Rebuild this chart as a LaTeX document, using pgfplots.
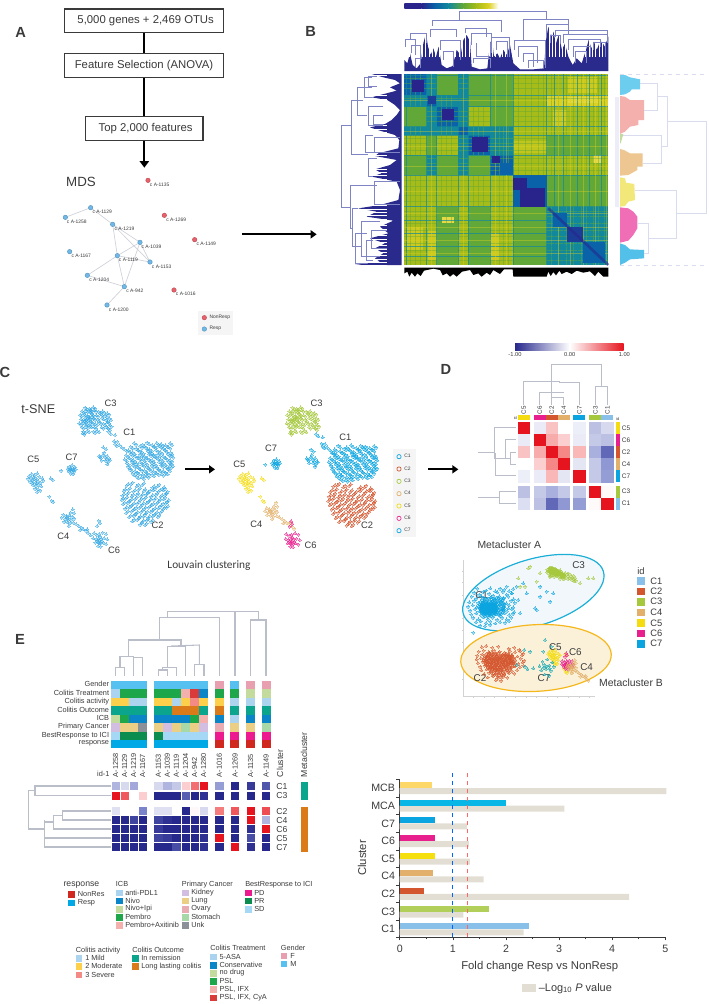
\documentclass[border=0pt]{standalone}
\usepackage{fontspec}
\setmainfont{Liberation Sans}
\newfontfamily\carlito{Carlito}
\usepackage{pgfplots}
\pgfplotsset{compat=1.18}
\usepackage{pgfplotstable}
\usetikzlibrary{arrows.meta}

% cluster colours
\definecolor{cA}{HTML}{88C0EA}\definecolor{cB}{HTML}{D4562F}\definecolor{cC}{HTML}{A5C83C}
\definecolor{cD}{HTML}{E2B06A}\definecolor{cE}{HTML}{F4DC10}\definecolor{cF}{HTML}{E8208E}
\definecolor{cG}{HTML}{0AA5E0}\definecolor{dots}{HTML}{35A8E2}
\definecolor{dg}{HTML}{BABEC9}\definecolor{dv}{HTML}{7F85C4}\definecolor{dl}{HTML}{D9DBEE}\definecolor{navy}{HTML}{2A2A8C}
\definecolor{txt}{HTML}{3A3A3A}\definecolor{mdsR}{HTML}{E8606A}\definecolor{mdsB}{HTML}{6FB8E8}
% heatmap B
\definecolor{hN}{HTML}{28248C}\definecolor{hB}{HTML}{0A62A8}\definecolor{hT}{HTML}{12889C}
\definecolor{hG}{HTML}{62A838}\definecolor{hO}{HTML}{A6BC18}\definecolor{hY}{HTML}{DCD022}\definecolor{hP}{HTML}{F2E87A}
% annotations panel E
\definecolor{gM}{HTML}{56C1F0}\definecolor{gF}{HTML}{E8A0B0}
\definecolor{tA}{HTML}{A9D3EE}\definecolor{tC}{HTML}{0A85C8}\definecolor{tN}{HTML}{C3DC9D}\definecolor{tP}{HTML}{1EA64A}\definecolor{tI}{HTML}{F3B0AD}\definecolor{tY}{HTML}{D93A3A}
\definecolor{aM}{HTML}{ACD4EE}\definecolor{aO}{HTML}{FDD04C}\definecolor{aS}{HTML}{F48A85}
\definecolor{oR}{HTML}{0AA58C}\definecolor{oL}{HTML}{DB7A18}
\definecolor{pK}{HTML}{D2BEE0}\definecolor{pL}{HTML}{EBCF85}\definecolor{pO}{HTML}{E8ACB2}\definecolor{pS}{HTML}{A6D8A8}\definecolor{pU}{HTML}{8C9199}
\definecolor{bD}{HTML}{EC1A8E}\definecolor{bR}{HTML}{0A8D4E}\definecolor{bS}{HTML}{A5D8F5}
\definecolor{rN}{HTML}{D0281E}\definecolor{rR}{HTML}{00A8E6}
\definecolor{pval}{HTML}{E2DED3}

\newcommand\fs[1]{\fontsize{#1}{#1}\selectfont}
\newcommand\den[2][dv]{\addplot[#1,forget plot] coordinates {#2};}
\newcommand\rc[5]{\addplot[draw=none,fill=#5,forget plot] coordinates {(#1,#3)(#2,#3)(#2,#4)(#1,#4)} --cycle;}
\newcommand\poly[2]{\addplot[draw=none,fill=#1,forget plot] coordinates {#2} --cycle;}
\newcommand\tx[4][]{\node[text=txt,inner sep=0pt,#1] at (#2,#3) {#4};}

\pgfplotsset{
  page/.style={at={(0,0)},anchor=north west,scale only axis,width=531.75pt,height=753pt,
    hide axis,clip=false,y dir=reverse,
    colormap={rb}{rgb255(0cm)=(38,40,140);rgb255(1cm)=(122,132,202);rgb255(2cm)=(255,255,255);rgb255(3cm)=(245,135,135);rgb255(4cm)=(230,20,30)}},
  pts/.style={only marks,mark=*,mark size=1.1pt,mark options={draw=#1,fill=#1,opacity=.42,line width=0pt},forget plot},
  hcells/.style={scatter,only marks,mark=square*,mark size=#1,point meta=explicit,point meta min=-1,point meta max=1,
    scatter/use mapped color={draw=mapped color,fill=mapped color},forget plot},
}

% t-SNE points (zoomed pixels)
\pgfplotstableread[row sep=crcr]{x y\\
402 219\\ 428 224\\ 441 218\\ 456 226\\ 470 219\\ 483 222\\ 497 226\\ 510 220\\
392 230\\ 408 236\\ 420 228\\ 437 233\\ 449 238\\ 462 229\\ 478 228\\ 490 235\\ 505 231\\
385 241\\ 398 247\\ 414 240\\ 425 246\\ 443 243\\ 455 249\\ 468 240\\ 481 246\\ 495 241\\ 511 248\\
378 256\\ 392 252\\ 405 258\\ 420 254\\ 433 259\\ 447 252\\ 460 257\\ 474 254\\ 489 259\\ 503 252\\ 514 258\\
374 268\\ 388 264\\ 400 270\\ 415 263\\ 428 268\\ 441 264\\ 456 271\\ 469 263\\ 482 268\\ 497 264\\ 510 270\\
380 279\\ 395 275\\ 408 281\\ 421 276\\ 436 279\\ 450 274\\ 463 282\\ 478 276\\ 491 280\\ 505 275\\ 513 283\\
384 290\\ 399 286\\ 412 291\\ 427 285\\ 440 290\\ 455 287\\ 470 293\\ 484 286\\ 498 291\\ 509 288\\
390 299\\ 405 303\\ 420 297\\ 433 302\\ 448 298\\ 461 304\\ 476 299\\ 490 303\\ 504 298\\
398 311\\ 412 308\\ 428 313\\ 441 309\\ 456 314\\ 470 310\\ 485 312\\ 497 308\\ 410 320\\ 425 322\\ 440 318\\
}\tCa
\pgfplotstableread[row sep=crcr]{x y\\
297 258\\ 303 265\\ 309 255\\ 315 262\\ 322 258\\ 328 266\\ 305 272\\ 316 272\\ 324 277\\ 312 248\\ 318 238\\ 310 232\\ 322 283\\ 330 270\\ 320 268\\ 300 262\\
345 222\\ 352 215\\ 358 225\\ 365 232\\ 372 238\\ 380 243\\ 342 214\\ 350 228\\ 325 185\\ 332 192\\ 345 195\\
}\tCb
\pgfplotstableread[row sep=crcr]{x y\\
385 342\\ 398 338\\ 415 344\\ 432 340\\ 462 348\\ 478 344\\ 492 352\\
376 358\\ 390 354\\ 405 360\\ 420 355\\ 436 358\\ 450 362\\ 465 356\\ 480 360\\ 495 356\\ 503 365\\
372 372\\ 386 368\\ 400 374\\ 415 370\\ 428 373\\ 443 369\\ 458 375\\ 472 370\\ 487 375\\ 500 371\\
370 385\\ 382 381\\ 396 387\\ 410 383\\ 425 386\\ 438 382\\ 452 388\\ 467 384\\ 481 388\\ 496 383\\ 506 390\\
374 398\\ 388 394\\ 402 400\\ 416 396\\ 431 399\\ 445 395\\ 460 401\\ 474 397\\ 489 401\\ 502 396\\
380 411\\ 394 407\\ 408 413\\ 423 409\\ 437 412\\ 451 408\\ 466 414\\ 480 410\\ 494 413\\ 504 408\\
384 424\\ 399 420\\ 413 426\\ 428 421\\ 442 425\\ 457 421\\ 471 427\\ 486 423\\
392 437\\ 406 433\\ 421 439\\ 435 434\\ 449 438\\ 463 434\\ 478 436\\
402 449\\ 417 445\\ 431 451\\ 445 447\\ 458 450\\ 425 459\\ 440 461\\
}\tCc
\pgfplotstableread[row sep=crcr]{x y\\
255 113\\ 268 116\\ 280 112\\ 246 124\\ 258 122\\ 270 127\\ 283 121\\ 296 125\\ 308 124\\ 240 135\\ 252 132\\ 263 138\\ 276 133\\ 289 136\\ 302 132\\ 315 137\\ 322 130\\
243 148\\ 255 145\\ 268 150\\ 280 146\\ 293 149\\ 306 144\\ 318 150\\ 328 146\\ 238 160\\ 250 158\\ 262 162\\ 274 157\\ 286 162\\ 298 158\\ 311 161\\ 323 157\\ 330 166\\
246 172\\ 258 170\\ 270 168\\ 283 172\\ 305 172\\ 318 170\\ 325 176\\ 250 185\\ 262 183\\ 248 190\\ 280 185\\ 292 183\\ 258 150\\ 264 142\\ 252 152\\ 276 140\\ 270 120\\
}\tCd
\pgfplotstableread[row sep=crcr]{x y\\
88 318\\ 95 312\\ 104 316\\ 112 310\\ 84 326\\ 93 325\\ 101 322\\ 110 327\\ 118 320\\ 127 325\\ 90 335\\ 98 332\\ 106 338\\ 114 333\\ 122 338\\ 130 332\\
100 345\\ 108 348\\ 116 344\\ 124 349\\ 105 356\\ 114 358\\ 121 362\\ 112 366\\ 104 328\\ 110 340\\ 97 340\\ 152 325\\ 158 330\\ 148 380\\ 155 392\\ 160 396\\
}\tCe
\pgfplotstableread[row sep=crcr]{x y\\
208 290\\ 216 286\\ 224 291\\ 203 297\\ 211 295\\ 219 296\\ 227 298\\ 206 304\\ 214 302\\ 222 305\\ 212 311\\ 219 313\\ 215 298\\ 210 300\\ 220 301\\ 183 302\\
}\tCf
\pgfplotstableread[row sep=crcr]{x y\\
218 418\\ 212 428\\ 222 430\\ 190 434\\ 198 438\\ 208 436\\ 216 440\\ 185 443\\ 195 447\\ 204 445\\ 212 450\\ 222 446\\ 192 455\\ 202 457\\ 210 460\\ 220 458\\ 206 468\\ 228 462\\
236 468\\ 244 473\\ 250 478\\ 258 482\\ 265 489\\ 272 496\\ 240 480\\ 262 478\\ 205 450\\ 200 442\\
}\tCg
\pgfplotstableread[row sep=crcr]{x y\\
296 452\\ 300 460\\ 292 468\\ 282 490\\ 290 495\\ 298 492\\ 308 488\\ 318 492\\ 280 505\\ 288 508\\ 296 505\\ 304 507\\ 312 504\\ 322 508\\ 286 518\\ 294 517\\ 302 520\\ 310 518\\ 318 522\\ 294 528\\ 302 530\\ 298 512\\ 300 500\\ 292 512\\ 306 514\\ 297 520\\
}\tCh

\pgfplotstableread[row sep=crcr]{x y v\\
251 295 1\\ 299 295 -.08\\ 335 295 .25\\ 371 295 0\\ 418 295 -.07\\ 466 295 -.25\\ 502 295 -.15\\
251 331 -.08\\ 299 331 1\\ 335 331 .35\\ 371 331 .2\\ 418 331 -.08\\ 466 331 -.22\\ 502 331 -.25\\
251 367 .25\\ 299 367 .35\\ 335 367 1\\ 371 367 .5\\ 418 367 .3\\ 466 367 -.32\\ 502 367 -.65\\
251 403 0\\ 299 403 .2\\ 335 403 .5\\ 371 403 1\\ 418 403 -.1\\ 466 403 -.22\\ 502 403 -.42\\
251 439 -.07\\ 299 439 -.08\\ 335 439 .3\\ 371 439 -.1\\ 418 439 1\\ 466 439 -.22\\ 502 439 -.4\\
251 486 -.25\\ 299 486 -.22\\ 335 486 -.32\\ 371 486 -.22\\ 418 486 -.22\\ 466 486 1\\ 502 486 .02\\
251 522 -.13\\ 299 522 -.25\\ 335 522 -.65\\ 371 522 -.42\\ 418 522 -.4\\ 466 522 .02\\ 502 522 1\\
}\tCorr

\pgfplotstableread[row sep=crcr]{x y v\\
347 648 -.3\\ 374 648 -.15\\ 401 648 -.35\\ 428 648 0\\ 475 648 -.15\\ 502 648 -.3\\ 529 648 -.22\\ 557 648 .2\\ 584 648 .6\\ 611 648 1\\ 658 648 -.4\\ 705 648 -1\\ 752 648 -.9\\ 798 648 -.75\\
347 677 1\\ 374 677 .7\\ 401 677 0\\ 428 677 .2\\ 475 677 -1\\ 502 677 -1\\ 529 677 -1\\ 557 677 -.7\\ 584 677 -1\\ 611 677 -.95\\ 658 677 -1\\ 705 677 -1\\ 752 677 -1\\ 798 677 -1\\
347 723 -.12\\ 374 723 0\\ 401 723 0\\ 428 723 -.5\\ 475 723 -.12\\ 502 723 -.12\\ 529 723 0\\ 557 723 -1\\ 584 723 .03\\ 611 723 -.15\\ 658 723 .55\\ 705 723 .7\\ 752 723 1\\ 798 723 .75\\
347 750 -1\\ 374 750 -1\\ 401 750 -.85\\ 428 750 -1\\ 475 750 -.85\\ 502 750 -.95\\ 529 750 -1\\ 557 750 -1\\ 584 750 -1\\ 611 750 -1\\ 658 750 -1\\ 705 750 -1\\ 752 750 1\\ 798 750 -.3\\
347 777 -1\\ 374 777 -1\\ 401 777 -1\\ 428 777 -1\\ 475 777 -.9\\ 502 777 -1\\ 529 777 -1\\ 557 777 -1\\ 584 777 -1\\ 611 777 -1\\ 658 777 -1\\ 705 777 -1\\ 752 777 -.95\\ 798 777 1\\
347 804 -1\\ 374 804 -1\\ 401 804 -1\\ 428 804 -1\\ 475 804 -.85\\ 502 804 -.9\\ 529 804 -1\\ 557 804 -1\\ 584 804 -1\\ 611 804 -.95\\ 658 804 1\\ 705 804 -1\\ 752 804 -.8\\ 798 804 -1\\
347 831 -1\\ 374 831 -1\\ 401 831 -1\\ 428 831 -1\\ 475 831 -1\\ 502 831 -1\\ 529 831 -.8\\ 557 831 -1\\ 584 831 -1\\ 611 831 -.95\\ 658 831 -1\\ 705 831 1\\ 752 831 -.95\\ 798 831 -1\\
}\tPat

\begin{document}
\begin{tikzpicture}

%% ---- panel A
\begin{axis}[page,xmin=0,xmax=2127,ymin=0,ymax=3012]
\tx{62}{97}{\fs{11}\bfseries A}
\draw[line width=1.4pt,black] (433,97)--(433,160) (433,232)--(433,350);
\draw[line width=1.4pt,black,-{Triangle[length=5pt,width=7pt]}] (433,420)--(433,503);
\draw[line width=.9pt,draw=txt,fill=white] (194,27) rectangle (671,97);
\draw[line width=.9pt,draw=txt,fill=white] (194,160) rectangle (671,232);
\draw[line width=.9pt,draw=txt,fill=white] (256,350) rectangle (609,421);
\tx{437}{62}{\fs{8.5}5,000 genes + 2,469 OTUs}
\tx{432}{196}{\fs{8.5}Feature Selection (ANOVA)}
\tx{437}{386}{\fs{8.5}Top 2,000 features}
\tx{243}{547}{\fs{10}MDS}
\den[draw=dg!70,line width=.5pt]{(196,652)(272,623)(338,673)(420,727)}
\den[draw=dg!70,line width=.5pt]{(338,673)(352,767)(373,860)(321,915)}
\den[draw=dg!70,line width=.5pt]{(338,673)(450,786)(420,727)(373,860)(262,826)(352,767)(420,727)}
\den[draw=dg!70,line width=.5pt]{(352,767)(450,786)}
\addplot[only marks,mark=*,mark size=1.7pt,mark options={fill=mdsR,draw=mdsR!80!black,line width=.3pt},forget plot] coordinates {(444,541)(493,646)(584,719)(522,870)};
\addplot[only marks,mark=*,mark size=1.7pt,mark options={fill=mdsB,draw=mdsB!80!black,line width=.3pt},forget plot] coordinates {(272,623)(196,652)(338,673)(420,727)(209,755)(352,767)(450,786)(262,826)(373,860)(321,915)};
\tx[anchor=west]{449}{555}{\fs{3.7}c A-1135}
\tx[anchor=west]{277}{636}{\fs{3.7}c A-1129}
\tx[anchor=west]{200}{664}{\fs{3.7}c A-1258}
\tx[anchor=west]{498}{658}{\fs{3.7}c A-1269}
\tx[anchor=west]{343}{686}{\fs{3.7}c A-1219}
\tx[anchor=west]{589}{732}{\fs{3.7}c A-1149}
\tx[anchor=west]{424}{741}{\fs{3.7}c A-1039}
\tx[anchor=west]{214}{767}{\fs{3.7}c A-1167}
\tx[anchor=west]{356}{780}{\fs{3.7}c A-1119}
\tx[anchor=west]{455}{800}{\fs{3.7}c A-1153}
\tx[anchor=west]{267}{839}{\fs{3.7}c A-1204}
\tx[anchor=west]{378}{873}{\fs{3.7}c A-942}
\tx[anchor=west]{527}{882}{\fs{3.7}c A-1016}
\tx[anchor=west]{326}{928}{\fs{3.7}c A-1200}
\rc{595}{698}{932}{1004}{gray!8}
\addplot[only marks,mark=*,mark size=1.7pt,mark options={fill=mdsR,draw=mdsR!80!black,line width=.3pt},forget plot] coordinates {(613,953)};
\addplot[only marks,mark=*,mark size=1.7pt,mark options={fill=mdsB,draw=mdsB!80!black,line width=.3pt},forget plot] coordinates {(613,987)};
\tx[anchor=west]{628}{951}{\fs{3.7}NonResp}
\tx[anchor=west]{628}{985}{\fs{3.7}Resp}
\draw[line width=1.6pt,black,-{Triangle[length=4.5pt,width=6pt]}] (726,703)--(950,703);
\end{axis}

%% ---- panel B
\begin{axis}[page,xmin=-900,xmax=1227,ymin=0,ymax=3012]
\tx{32}{95}{\fs{11}\bfseries B}
\shade[left color=hN,right color=hN] (313,10) rectangle (365,25);
\shade[left color=hN,right color=hB] (365,10) rectangle (405,25);
\shade[left color=hB,right color=hT] (405,10) rectangle (445,25);
\shade[left color=hT,right color=hG] (445,10) rectangle (490,25);
\shade[left color=hG,right color=hO] (490,10) rectangle (530,25);
\shade[left color=hO,right color=hY] (530,10) rectangle (565,25);
\shade[left color=hY,right color=white] (565,10) rectangle (595,25);
% top dendrogram
\poly{navy}{(313,213)(313,180)(322,190)(330,160)(338,195)(350,205)(362,190)(370,130)(378,100)(384,140)(392,165)(400,145)(408,170)(416,140)(425,195)(440,205)(458,198)(470,150)(482,165)(490,120)(500,105)(510,125)(515,200)(540,208)(562,205)(570,130)(576,118)(582,170)(592,160)(600,175)(610,150)(620,165)(630,135)(640,190)(660,208)(700,208)(732,205)(738,120)(745,80)(752,110)(760,95)(768,130)(776,105)(786,150)(795,130)(805,170)(818,195)(830,175)(845,190)(858,150)(866,120)(874,145)(882,125)(890,150)(898,130)(906,125)(914,140)(925,110)(925,213)}
\pgfplotsinvokeforeach{316,326,...,925}{\den[draw=white,line width=.13pt]{(#1,80)(#1,170)}}
\den{(478,60)(478,33)(739,33)(739,60)}
\den{(398,78)(398,62)(605,62)(605,95)}
\den{(670,120)(670,58)(805,58)(805,72)}
\den{(390,112)(390,88)(470,88)(470,112)}
\den{(330,120)(330,100)(378,100)(378,130)}
\den{(315,140)(315,118)(345,118)(345,165)}
\den{(335,160)(335,135)(362,135)(362,190)}
\den{(420,150)(420,122)(482,122)(482,180)}
\den{(430,180)(430,155)(460,155)(460,200)}
\den{(497,100)(497,85)(560,85)(560,110)}
\den{(515,135)(515,100)(575,100)(575,160)}
\den{(528,130)(528,170)(570,170)(570,130)}
\den{(520,190)(520,175)(570,175)(570,205)}
\den{(575,150)(575,113)(628,113)(628,170)}
\den{(590,150)(590,125)(622,125)(622,170)}
\den{(642,150)(642,120)(735,120)(735,205)}
\den{(655,170)(655,140)(712,140)(712,190)}
\den{(670,185)(670,160)(700,160)(700,200)}
\den{(685,205)(685,180)(730,180)(730,205)}
\den{(740,110)(740,72)(805,72)(805,105)}
\den{(765,110)(765,90)(922,90)(922,130)}
\den{(790,130)(790,102)(922,102)(922,130)}
\den{(805,150)(805,118)(900,118)(900,140)}
\den{(820,170)(820,138)(870,138)(870,170)}
\den{(880,150)(880,128)(915,128)(915,170)}
\den{(752,130)(752,105)(780,105)(780,130)}
\den{(825,190)(825,155)(860,155)(860,190)}
\den{(345,200)(345,175)(360,175)(360,205)}
% left dendrogram
\poly{navy}{(305,222)(215,222)(250,232)(285,240)(300,250)(270,262)(290,272)(240,285)(215,292)(262,300)(285,315)(300,330)(290,345)(275,360)(255,372)(210,382)(240,392)(285,405)(298,420)(295,445)(235,460)(225,468)(290,480)(270,495)(225,508)(245,520)(215,530)(290,545)(300,570)(295,600)(240,615)(175,625)(230,635)(200,650)(280,662)(240,680)(265,700)(210,715)(255,730)(225,745)(250,760)(225,775)(240,785)(165,795)(305,795)}
\pgfplotsinvokeforeach{226,236,...,792}{\den[draw=white,line width=.13pt]{(160,#1)(262,#1)}}
\den{(155,375)(125,375)(125,622)(150,622)}
\den{(190,300)(155,300)(155,462)(205,462)}
\den{(215,262)(172,262)(172,345)(200,345)}
\den{(215,232)(192,232)(192,292)(215,292)}
\den{(230,228)(205,228)(205,258)(230,258)}
\den{(250,318)(205,318)(205,375)(250,375)}
\den{(250,345)(220,345)(220,372)(250,372)}
\den{(220,405)(195,405)(195,458)(225,458)}
\den{(300,412)(222,412)(222,458)(300,458)}
\den{(230,475)(205,475)(205,530)(220,530)}
\den{(300,545)(222,545)(222,612)(300,612)}
\den{(230,555)(150,555)(150,685)(158,685)}
\den{(175,625)(158,625)(158,738)(185,738)}
\den{(200,700)(165,700)(165,790)(200,790)}
\den{(240,665)(185,665)(185,770)(240,770)}
\den{(220,720)(200,720)(200,780)(220,780)}
\den{(260,690)(215,690)(215,745)(260,745)}
% similarity matrix, block by block
\rc{313}{380}{222}{285}{hB}\rc{380}{410}{222}{285}{hT}\rc{410}{475}{222}{285}{hG}\rc{475}{505}{222}{285}{hT}\rc{505}{570}{222}{285}{hG}\rc{570}{640}{222}{285}{hG}\rc{640}{740}{222}{285}{hO}\rc{740}{925}{222}{285}{hO}
\rc{313}{380}{285}{320}{hT}\rc{380}{410}{285}{320}{hB}\rc{410}{475}{285}{320}{hT}\rc{475}{505}{285}{320}{hT}\rc{505}{570}{285}{320}{hG}\rc{570}{640}{285}{320}{hG}\rc{640}{740}{285}{320}{hO}\rc{740}{925}{285}{320}{hY}
\rc{313}{380}{320}{380}{hG}\rc{380}{410}{320}{380}{hT}\rc{410}{475}{320}{380}{hB}\rc{475}{505}{320}{380}{hT}\rc{505}{570}{320}{380}{hO}\rc{570}{640}{320}{380}{hG}\rc{640}{740}{320}{380}{hO}\rc{740}{925}{320}{380}{hO}
\rc{313}{380}{380}{405}{hT}\rc{380}{410}{380}{405}{hT}\rc{410}{475}{380}{405}{hT}\rc{475}{505}{380}{405}{hB}\rc{505}{570}{380}{405}{hT}\rc{570}{640}{380}{405}{hT}\rc{640}{740}{380}{405}{hO}\rc{740}{925}{380}{405}{hO}
\rc{313}{380}{405}{465}{hO}\rc{380}{410}{405}{465}{hG}\rc{410}{475}{405}{465}{hO}\rc{475}{505}{405}{465}{hT}\rc{505}{570}{405}{465}{hB}\rc{570}{640}{405}{465}{hT}\rc{640}{740}{405}{465}{hO}\rc{740}{925}{405}{465}{hG}
\rc{313}{380}{465}{525}{hG}\rc{380}{410}{465}{525}{hT}\rc{410}{475}{465}{525}{hG}\rc{475}{505}{465}{525}{hT}\rc{505}{570}{465}{525}{hG}\rc{570}{640}{465}{525}{hB}\rc{640}{740}{465}{525}{hO}\rc{740}{925}{465}{525}{hO}
\rc{313}{380}{525}{620}{hO}\rc{380}{410}{525}{620}{hO}\rc{410}{475}{525}{620}{hO}\rc{475}{505}{525}{620}{hO}\rc{505}{570}{525}{620}{hO}\rc{570}{640}{525}{620}{hO}\rc{640}{740}{525}{620}{hB}\rc{740}{925}{525}{620}{hG}
\rc{313}{380}{620}{795}{hO}\rc{380}{410}{620}{795}{hO}\rc{410}{475}{620}{795}{hG}\rc{475}{505}{620}{795}{hO}\rc{505}{570}{620}{795}{hG}\rc{570}{640}{620}{795}{hO}\rc{640}{740}{620}{795}{hG}\rc{740}{925}{620}{795}{hT}
% pale patches
\rc{805}{890}{232}{280}{hY!70!hO}\rc{805}{895}{292}{310}{hY!70!hP}\rc{760}{800}{330}{380}{hY!70!hO}\rc{880}{905}{465}{490}{hY!60!hP}\rc{320}{370}{680}{750}{hY!70!hO}\rc{385}{410}{690}{780}{hY!70!hO}\rc{570}{600}{700}{780}{hY!70!hO}\rc{425}{462}{650}{668}{hY!60!hP}\rc{640}{740}{422}{460}{hY!50!hO}
% stripes between the blocks
\pgfplotsinvokeforeach{330,345,360,425,440,455,520,535,550,598,610,625,655,675,695,715,730,755,775,800,820,845,860,880,895,912}{
  \den[draw=hG,line width=.3pt,opacity=.45]{(#1,222)(#1,795)}}
\pgfplotsinvokeforeach{235,250,265,295,335,350,365,415,430,450,475,490,510,540,560,585,605,635,650,670,690,710,730,750,780}{
  \den[draw=hG,line width=.3pt,opacity=.45]{(313,#1)(925,#1)}}
\pgfplotsinvokeforeach{318,380,410,475,505,570,640,740,762,790,832,868,905}{
  \den[draw=hT,line width=.7pt,opacity=.7]{(#1,222)(#1,795)}}
\pgfplotsinvokeforeach{225,285,320,380,405,465,525,620,660,700,740,770}{
  \den[draw=hT,line width=.7pt,opacity=.7]{(313,#1)(925,#1)}}
\pgfplotsinvokeforeach{395,490,585,620,775,810,850,885,918}{
  \den[draw=hY,line width=.4pt,opacity=.4]{(#1,222)(#1,795)}}
\pgfplotsinvokeforeach{300,395,440,500,575,640,682,720,760}{
  \den[draw=hY,line width=.4pt,opacity=.4]{(313,#1)(925,#1)}}
% dark squares on the diagonal
\rc{335}{372}{240}{275}{hN}\rc{425}{462}{328}{360}{hN}\rc{515}{565}{412}{456}{hN}\rc{575}{600}{468}{490}{hN}\rc{600}{638}{490}{525}{hB}\rc{385}{408}{288}{312}{hN!60!hB}
\rc{640}{740}{525}{620}{hB}\rc{660}{735}{565}{620}{hN}\rc{640}{680}{535}{570}{hN}
\rc{760}{800}{640}{680}{hB}\rc{800}{850}{680}{725}{hN!60!hB}\rc{850}{915}{725}{790}{hB}
\den[draw=hN,line width=2pt,opacity=.55]{(745,625)(925,795)}
% bar below
\poly{black}{(313,803)(313,820)(322,815)(328,830)(335,818)(345,830)(352,820)(362,828)(372,812)(400,806)(420,810)(428,826)(440,820)(450,830)(460,822)(470,830)(486,815)(510,810)(520,825)(535,820)(545,830)(560,818)(570,825)(580,810)(600,822)(612,808)(638,808)(640,830)(740,830)(745,815)(752,828)(760,816)(768,826)(778,812)(785,822)(800,815)(815,822)(830,812)(850,818)(870,814)(885,828)(895,815)(910,830)(925,830)(925,803)}
% metadata histograms on the right
\rc{945}{958}{290}{620}{dl!50}
\poly{cA!80!cyan}{(960,225)(975,225)(990,232)(1020,238)(1020,268)(995,268)(990,275)(975,283)(960,285)}
\poly{tI}{(960,288)(975,290)(990,300)(1032,300)(1032,360)(1015,360)(1015,375)(990,380)(975,395)(960,402)}
\poly{tN}{(960,402)(970,402)(962,430)(960,430)}
\poly{pL!70!tI}{(960,447)(972,450)(990,460)(1028,460)(1028,500)(1012,500)(1012,510)(985,525)(960,527)}
\poly{hP}{(960,532)(975,535)(978,548)(1003,552)(1005,600)(985,605)(975,618)(960,620)}
\poly{cF!65!white}{(960,622)(985,625)(1000,635)(1012,650)(1012,685)(1000,705)(985,722)(960,728)}
\poly{cG!70!white}{(960,730)(975,735)(990,748)(1032,750)(1032,775)(990,778)(975,788)(960,795)}
\den[dl,dashed]{(960,222)(1220,222)}
\den[dl,dashed]{(960,795)(1220,795)}
\den[dl]{(1020,250)(1073,250)(1073,330)(1032,330)}
\den[dl]{(970,405)(1085,405)(1085,490)(1028,490)}
\den[dl]{(1073,290)(1103,290)(1103,440)(1085,440)}
\den[dl]{(1103,365)(1220,365)(1220,640)(1130,640)}
\den[dl]{(1005,570)(1130,570)(1130,715)(1045,715)}
\den[dl]{(1012,670)(1045,670)(1045,760)(1032,760)}
\end{axis}

%% ---- panel C
\begin{axis}[page,xmin=0,xmax=2127,ymin=-1110,ymax=1902]
\tx{15}{6}{\fs{11}\bfseries C}
\tx{115}{118}{\fs{9.5}t-SNE}
\addplot[pts=dots] table {\tCa};
\addplot[pts=dots] table[x expr=\thisrow{x}+6,y expr=\thisrow{y}+5] {\tCa};
\addplot[pts=dots] table {\tCb};
\addplot[pts=dots] table {\tCc};
\addplot[pts=dots] table[x expr=\thisrow{x}-5,y expr=\thisrow{y}+5] {\tCc};
\addplot[pts=dots] table {\tCd};
\addplot[pts=dots] table[x expr=\thisrow{x}+5,y expr=\thisrow{y}+4] {\tCd};
\addplot[pts=dots] table {\tCe};
\addplot[pts=dots] table {\tCf};
\addplot[pts=dots] table {\tCg};
\addplot[pts=dots] table {\tCh};
\tx{332}{100}{\fs{7}C3}\tx{388}{188}{\fs{7}C1}\tx{100}{268}{\fs{7}C5}\tx{215}{262}{\fs{7}C7}\tx{473}{465}{\fs{7}C2}\tx{190}{500}{\fs{7}C4}\tx{342}{540}{\fs{7}C6}
\draw[line width=1.6pt,black,-{Triangle[length=4.5pt,width=6pt]}] (555,298)--(645,298);
\tx{627}{588}{\fs{8.5}\carlito Louvain clustering}
\addplot[pts=cG] table[x expr=\thisrow{x}+612,y expr=\thisrow{y}+8] {\tCa};
\addplot[pts=cG] table[x expr=\thisrow{x}+618,y expr=\thisrow{y}+13] {\tCa};
\addplot[pts=cG] table[x expr=\thisrow{x}+623,y expr=\thisrow{y}+7] {\tCb};
\addplot[pts=cB] table[x expr=\thisrow{x}+620,y expr=\thisrow{y}+3] {\tCc};
\addplot[pts=cB] table[x expr=\thisrow{x}+615,y expr=\thisrow{y}+8] {\tCc};
\addplot[pts=cC] table[x expr=\thisrow{x}+622,y expr=\thisrow{y}] {\tCd};
\addplot[pts=cC] table[x expr=\thisrow{x}+627,y expr=\thisrow{y}+4] {\tCd};
\addplot[pts=cE] table[x expr=\thisrow{x}+633,y expr=\thisrow{y}] {\tCe};
\addplot[pts=cG] table[x expr=\thisrow{x}+613,y expr=\thisrow{y}-18] {\tCf};
\addplot[pts=cD] table[x expr=\thisrow{x}+610,y expr=\thisrow{y}-20] {\tCg};
\addplot[pts=cF] table[x expr=\thisrow{x}+577,y expr=\thisrow{y}+2] {\tCh};
\tx{950}{100}{\fs{7}C3}\tx{1036}{203}{\fs{7}C1}\tx{813}{236}{\fs{7}C7}\tx{718}{282}{\fs{7}C5}\tx{769}{464}{\fs{7}C4}\tx{1101}{465}{\fs{7}C2}\tx{932}{527}{\fs{7}C6}
\rc{1180}{1247}{237}{500}{gray!8}
\addplot[only marks,mark=o,mark size=1.6pt,mark options={draw=cG,line width=.5pt},forget plot] coordinates {(1197,260)};
\addplot[only marks,mark=o,mark size=1.6pt,mark options={draw=cB,line width=.5pt},forget plot] coordinates {(1197,297)};
\addplot[only marks,mark=o,mark size=1.6pt,mark options={draw=cC,line width=.5pt},forget plot] coordinates {(1197,334)};
\addplot[only marks,mark=o,mark size=1.6pt,mark options={draw=cD,line width=.5pt},forget plot] coordinates {(1197,371)};
\addplot[only marks,mark=o,mark size=1.6pt,mark options={draw=cE,line width=.5pt},forget plot] coordinates {(1197,408)};
\addplot[only marks,mark=o,mark size=1.6pt,mark options={draw=cF,line width=.5pt},forget plot] coordinates {(1197,445)};
\addplot[only marks,mark=o,mark size=1.6pt,mark options={draw=cG,line width=.5pt},forget plot] coordinates {(1197,482)};
\tx[anchor=west]{1212}{258}{\fs{3.7}C1}\tx[anchor=west]{1212}{295}{\fs{3.7}C2}\tx[anchor=west]{1212}{332}{\fs{3.7}C3}\tx[anchor=west]{1212}{369}{\fs{3.7}C4}\tx[anchor=west]{1212}{406}{\fs{3.7}C5}\tx[anchor=west]{1212}{443}{\fs{3.7}C6}\tx[anchor=west]{1212}{480}{\fs{3.7}C7}
\end{axis}

%% ---- panel D
\begin{axis}[page,xmin=-1320,xmax=807,ymin=-990,ymax=2022]
\tx{18}{117}{\fs{11}\bfseries D}
\draw[line width=1.6pt,black,-{Triangle[length=4.5pt,width=6pt]}] (-36,418)--(55,418);
\shade[left color={rgb,255:red,38;green,40;blue,140},right color=white] (225,41) rectangle (389,60);
\shade[left color=white,right color={rgb,255:red,230;green,20;blue,30}] (389,41) rectangle (551,60);
\tx{225}{74}{\fs{4.3}-1.00}\tx{389}{74}{\fs{4.3}0.00}\tx{553}{74}{\fs{4.3}1.00}
\den[dg,line width=.6pt]{(334,155)(334,103)(484,103)(484,170)}
\den[dg,line width=.6pt]{(250,225)(250,153)(358,153)(358,157)(418,157)(418,225)}
\den[dg,line width=.6pt]{(298,225)(298,187)(372,187)}
\den[dg,line width=.6pt]{(335,155)(335,203)}
\den[dg,line width=.6pt]{(335,225)(335,203)(371,203)(371,225)}
\den[dg,line width=.6pt]{(466,225)(466,170)(502,170)(502,225)}
\rc{233}{269}{256}{270}{cE}\rc{281}{317}{256}{270}{cF}\rc{317}{353}{256}{270}{cB}\rc{353}{389}{256}{270}{cD}\rc{400}{436}{256}{270}{cG}\rc{448}{484}{256}{270}{cC}\rc{484}{520}{256}{270}{cA}
\rc{527}{540}{277}{313}{cE}\rc{527}{540}{313}{349}{cF}\rc{527}{540}{349}{385}{cB}\rc{527}{540}{385}{421}{cD}\rc{527}{540}{421}{457}{cG}\rc{527}{540}{468}{504}{cC}\rc{527}{540}{504}{540}{cA}
\node[rotate=90,text=txt,inner sep=0pt] at (251,240) {\fs{4.7}C5};
\node[rotate=90,text=txt,inner sep=0pt] at (299,240) {\fs{4.7}C6};
\node[rotate=90,text=txt,inner sep=0pt] at (335,240) {\fs{4.7}C2};
\node[rotate=90,text=txt,inner sep=0pt] at (371,240) {\fs{4.7}C4};
\node[rotate=90,text=txt,inner sep=0pt] at (418,240) {\fs{4.7}C7};
\node[rotate=90,text=txt,inner sep=0pt] at (466,240) {\fs{4.7}C3};
\node[rotate=90,text=txt,inner sep=0pt] at (502,240) {\fs{4.7}C1};
\tx{226}{263}{\fs{3}id}\tx{533}{266}{\fs{3}id}
\tx[anchor=west]{545}{294}{\fs{4.9}C5}\tx[anchor=west]{545}{330}{\fs{4.9}C6}\tx[anchor=west]{545}{366}{\fs{4.9}C2}\tx[anchor=west]{545}{402}{\fs{4.9}C4}\tx[anchor=west]{545}{438}{\fs{4.9}C7}\tx[anchor=west]{545}{485}{\fs{4.9}C3}\tx[anchor=west]{545}{521}{\fs{4.9}C1}
\den[dg,line width=.6pt]{(113,366)(165,366)}
\den[dg,line width=.6pt]{(228,293)(162,293)(162,385)(197,385)}
\den[dg,line width=.6pt]{(228,437)(167,437)(167,370)}
\den[dg,line width=.6pt]{(228,329)(197,329)(197,385)(210,385)}
\den[dg,line width=.6pt]{(228,366)(210,366)(210,402)(228,402)}
\den[dg,line width=.6pt]{(113,503)(178,503)}
\den[dg,line width=.6pt]{(228,485)(178,485)(178,521)(228,521)}
\addplot[hcells=4.25pt] table[meta=v] {\tCorr};
% scatter with the two metaclusters
\den[draw=gray!35,line width=.4pt]{(70,690)(70,1098)(465,1098)}
\pgfplotsinvokeforeach{723,758,795,830,865,900,937,975,1012,1048}{\den[draw=gray!35,line width=.4pt]{(65,#1)(70,#1)}}
\pgfplotsinvokeforeach{100,132,163,195,227,258,290,322,353,385,417,448}{\den[draw=gray!35,line width=.4pt]{(#1,1098)(#1,1103)}}
\draw[draw={rgb,255:red,27;green,175;blue,216},line width=.9pt,fill={rgb,255:red,241;green,247;blue,251}] (280,788) ellipse [x radius=54.9pt,y radius=24.9pt,rotate=17];
\draw[draw={rgb,255:red,245;green,184;blue,28},line width=.9pt,fill={rgb,255:red,251;green,241;blue,216}] (288,984) ellipse [x radius=56.5pt,y radius=25pt,rotate=3];
\addplot[pts=cG] table[x expr=\thisrow{x}-290,y expr=\thisrow{y}*1.1+535] {\tCa};
\addplot[pts=cG] table[x expr=(\thisrow{x}-445)*.55+155,y expr=(\thisrow{y}-268)*.55+830] {\tCa};
\addplot[pts=cG] table[x expr=(\thisrow{x}-445)*.35+145,y expr=(\thisrow{y}-268)*.3+835] {\tCa};
\addplot[pts=cG] coordinates {(230,770)(260,790)(300,800)(285,835)(340,790)(330,815)(250,760)(215,790)(240,850)(290,840)(205,835)(100,908)(200,770)(235,810)(300,770)(320,785)};
\addplot[pts=cC] table[x expr=(\thisrow{x}-285)*.95+365,y expr=(\thisrow{y}-150)*.35+(\thisrow{x}-285)*.25+735] {\tCd};
\addplot[pts=cC] table[x expr=(\thisrow{x}-285)*.5+350,y expr=(\thisrow{y}-150)*.25+(\thisrow{x}-285)*.2+728] {\tCd};
\addplot[pts=cC] coordinates {(240,770)(270,710)(265,715)(300,730)(445,745)(460,745)(420,760)(255,770)(290,755)(235,745)};
\addplot[pts=cB] table[x expr=(\thisrow{x}-437)*1.05+180,y expr=(\thisrow{y}-398)*.85+999] {\tCc};
\addplot[pts=cB] table[x expr=(\thisrow{x}-437)*.62+180,y expr=(\thisrow{y}-398)*.6+1003] {\tCc};
\addplot[pts=cB] table[x expr=(\thisrow{x}-437)*.62+172,y expr=(\thisrow{y}-398)*.42+995] {\tCc};
\addplot[pts=cE] table[x expr=(\thisrow{x}-105)*.75+340,y expr=(\thisrow{y}-335)*.8+980] {\tCe};
\addplot[pts=cF] table[x expr=(\thisrow{x}-298)*.8+380,y expr=(\thisrow{y}-505)*.6+1002] {\tCh};
\addplot[pts=cD] table[x expr=(\thisrow{x}-225)*.75+410,y expr=(\thisrow{y}-455)*.8+1020] {\tCg};
\addplot[pts=cG!50!oR] table[x expr=(\thisrow{x}-215)*1.8+320,y expr=(\thisrow{y}-298)*1.8+1010] {\tCf};
\addplot[pts=cG!50!oR] coordinates {(253,960)(270,965)(310,965)(335,950)(315,930)(230,1005)(280,1015)(255,1010)};
\tx{208}{644}{\fs{7.8}Metacluster A}\tx{573}{1058}{\fs{7.8}Metacluster B}
\tx{416}{705}{\fs{7.4}C3}\tx{125}{795}{\fs{7.4}C1}\tx{346}{950}{\fs{7.4}C5}\tx{406}{967}{\fs{7.4}C6}\tx{440}{1012}{\fs{7.4}C4}\tx{312}{1043}{\fs{7.4}C7}\tx{120}{1045}{\fs{7.4}C2}
\tx{603}{722}{\fs{7}id}
\rc{592}{615}{742}{765}{cA}\rc{592}{615}{773}{796}{cB}\rc{592}{615}{804}{827}{cC}\rc{592}{615}{836}{859}{cD}\rc{592}{615}{868}{891}{cE}\rc{592}{615}{899}{922}{cF}\rc{592}{615}{930}{953}{cG}
\tx[anchor=west]{630}{753}{\fs{7}C1}\tx[anchor=west]{630}{784}{\fs{7}C2}\tx[anchor=west]{630}{815}{\fs{7}C3}\tx[anchor=west]{630}{847}{\fs{7}C4}\tx[anchor=west]{630}{879}{\fs{7}C5}\tx[anchor=west]{630}{910}{\fs{7}C6}\tx[anchor=west]{630}{941}{\fs{7}C7}
\end{axis}

%% ---- panel E, upper part
\begin{axis}[page,xmin=0,xmax=2127,ymin=-1710,ymax=1302]
\tx{60}{208}{\fs{11}\bfseries E}
\den[dg,line width=.8pt]{(502,143)(502,124)(776,124)(776,150)}
\den[dg,line width=.8pt]{(705,124)(705,318)}
\den[dg,line width=.8pt]{(479,210)(479,143)(658,143)(658,318)}
\den[dg,line width=.8pt]{(752,318)(752,150)(798,150)(798,318)}
\den[dg,line width=.8pt]{(386,260)(386,210)(543,210)(543,228)}
\den[dg,line width=.8pt]{(360,292)(360,260)(401,260)(401,318)}
\den[dg,line width=.8pt]{(346,318)(346,292)(374,292)(374,318)}
\den[dg,line width=.8pt]{(401,263)(428,263)(428,318)}
\den[dg,line width=.8pt]{(502,292)(502,230)(557,230)(557,318)}
\den[dg,line width=.8pt]{(515,230)(515,228)(598,225)(598,283)}
\den[dg,line width=.8pt]{(583,318)(583,283)(612,283)(612,318)}
\den[dg,line width=.8pt]{(488,300)(488,292)(530,292)(530,318)}
\den[dg,line width=.8pt]{(475,318)(475,300)(502,300)(502,318)}
% annotation rows
\rc{333}{442}{332}{357}{gM}\rc{461}{625}{332}{357}{gM}\rc{645}{672}{332}{357}{gF}\rc{691}{718}{332}{357}{gM}\rc{738}{765}{332}{357}{gF}\rc{785}{812}{332}{357}{gF}
\rc{333}{360}{357}{383}{tA}\rc{360}{442}{357}{383}{tP}\rc{461}{543}{357}{383}{tP}\rc{543}{570}{357}{383}{tI}\rc{570}{598}{357}{383}{tY}\rc{598}{625}{357}{383}{tC}\rc{645}{672}{357}{383}{tP}\rc{691}{718}{357}{383}{tP}\rc{738}{765}{357}{383}{tN}\rc{785}{812}{357}{383}{tN}
\rc{333}{387}{383}{408}{aO}\rc{387}{442}{383}{408}{aM}\rc{461}{516}{383}{408}{aO}\rc{516}{543}{383}{408}{aM}\rc{543}{570}{383}{408}{aO}\rc{570}{598}{383}{408}{aS}\rc{598}{625}{383}{408}{aO}\rc{645}{672}{383}{408}{aO}\rc{691}{718}{383}{408}{aM}\rc{738}{765}{383}{408}{aM}\rc{785}{812}{383}{408}{aM}
\rc{333}{442}{408}{434}{oR}\rc{461}{516}{408}{434}{oR}\rc{516}{598}{408}{434}{oL}\rc{598}{625}{408}{434}{oR}\rc{645}{672}{408}{434}{oL}\rc{691}{718}{408}{434}{oR}\rc{738}{765}{408}{434}{oR}\rc{785}{812}{408}{434}{oR}
\rc{333}{360}{434}{459}{tN}\rc{360}{387}{434}{459}{tP}\rc{387}{442}{434}{459}{tC}\rc{461}{570}{434}{459}{tC}\rc{570}{598}{434}{459}{tP}\rc{598}{625}{434}{459}{tI}\rc{645}{672}{434}{459}{tC}\rc{691}{718}{434}{459}{tA}\rc{738}{765}{434}{459}{tC}\rc{785}{812}{434}{459}{tC}
\rc{333}{360}{459}{485}{pK}\rc{360}{415}{459}{485}{pL}\rc{415}{442}{459}{485}{pU}\rc{461}{488}{459}{485}{pL}\rc{488}{516}{459}{485}{pK}\rc{516}{543}{459}{485}{pL}\rc{543}{570}{459}{485}{pS}\rc{570}{598}{459}{485}{pL}\rc{598}{625}{459}{485}{pK}\rc{645}{672}{459}{485}{pO}\rc{691}{718}{459}{485}{pL}\rc{738}{765}{459}{485}{pL}\rc{785}{812}{459}{485}{pS}
\rc{333}{360}{485}{510}{bS}\rc{360}{442}{485}{510}{bR}\rc{461}{488}{485}{510}{bR}\rc{488}{625}{485}{510}{bS}\rc{645}{672}{485}{510}{bD}\rc{691}{718}{485}{510}{bD}\rc{738}{765}{485}{510}{bD}\rc{785}{812}{485}{510}{bD}
\rc{333}{442}{510}{533}{rR}\rc{461}{625}{510}{533}{rR}\rc{645}{672}{510}{533}{rN}\rc{691}{718}{510}{533}{rN}\rc{738}{765}{510}{533}{rN}\rc{785}{812}{510}{533}{rN}
\tx[anchor=east]{328}{343}{\fs{5.5}Gender}
\tx[anchor=east]{328}{368}{\fs{5.5}Colitis Treatment}
\tx[anchor=east]{328}{394}{\fs{5.5}Colitis activity}
\tx[anchor=east]{328}{419}{\fs{5.5}Colitis Outcome}
\tx[anchor=east]{328}{445}{\fs{5.5}ICB}
\tx[anchor=east]{328}{470}{\fs{5.5}Primary Cancer}
\tx[anchor=east]{328}{496}{\fs{5.5}BestResponse to ICI}
\tx[anchor=east]{328}{520}{\fs{5.5}response}
\tx[anchor=east]{329}{612}{\fs{5.5}id-1}
\node[rotate=90,anchor=west,text=txt,inner sep=0pt] at (347,622) {\fs{5.5}A-1258};
\node[rotate=90,anchor=west,text=txt,inner sep=0pt] at (374,622) {\fs{5.5}A-1129};
\node[rotate=90,anchor=west,text=txt,inner sep=0pt] at (401,622) {\fs{5.5}A-1219};
\node[rotate=90,anchor=west,text=txt,inner sep=0pt] at (428,622) {\fs{5.5}A-1167};
\node[rotate=90,anchor=west,text=txt,inner sep=0pt] at (475,622) {\fs{5.5}A-1153};
\node[rotate=90,anchor=west,text=txt,inner sep=0pt] at (502,622) {\fs{5.5}A-1039};
\node[rotate=90,anchor=west,text=txt,inner sep=0pt] at (529,622) {\fs{5.5}A-1119};
\node[rotate=90,anchor=west,text=txt,inner sep=0pt] at (557,622) {\fs{5.5}A-1204};
\node[rotate=90,anchor=west,text=txt,inner sep=0pt] at (584,622) {\fs{5.5}A-942};
\node[rotate=90,anchor=west,text=txt,inner sep=0pt] at (611,622) {\fs{5.5}A-1280};
\node[rotate=90,anchor=west,text=txt,inner sep=0pt] at (658,622) {\fs{5.5}A-1016};
\node[rotate=90,anchor=west,text=txt,inner sep=0pt] at (705,622) {\fs{5.5}A-1269};
\node[rotate=90,anchor=west,text=txt,inner sep=0pt] at (752,622) {\fs{5.5}A-1135};
\node[rotate=90,anchor=west,text=txt,inner sep=0pt] at (798,622) {\fs{5.5}A-1149};
\node[rotate=90,anchor=west,text=txt,inner sep=0pt] at (840,622) {\fs{6.5}Cluster};
\node[rotate=90,anchor=west,text=txt,inner sep=0pt] at (912,622) {\fs{6.5}Metacluster};
\addplot[hcells=2.75pt] table[meta=v] {\tPat};
\tx[anchor=west]{828}{648}{\fs{6.5}C1}\tx[anchor=west]{828}{677}{\fs{6.5}C3}\tx[anchor=west]{828}{723}{\fs{6.5}C2}\tx[anchor=west]{828}{750}{\fs{6.5}C4}\tx[anchor=west]{828}{777}{\fs{6.5}C6}\tx[anchor=west]{828}{804}{\fs{6.5}C5}\tx[anchor=west]{828}{831}{\fs{6.5}C7}
\rc{902}{925}{635}{690}{oR}\rc{902}{925}{710}{846}{oL}
\den[dg,line width=.8pt]{(333,648)(105,648)(105,677)(333,677)}
\den[dg,line width=.8pt]{(105,662)(85,662)(85,777)(133,777)}
\den[dg,line width=.8pt]{(133,750)(133,831)(333,831)}
\den[dg,line width=.8pt]{(133,804)(333,804)}
\den[dg,line width=.8pt]{(133,756)(160,756)}
\den[dg,line width=.8pt]{(160,736)(160,777)(333,777)}
\den[dg,line width=.8pt]{(160,736)(187,736)}
\den[dg,line width=.8pt]{(333,723)(187,723)(187,750)(333,750)}
\end{axis}

%% ---- panel E, legends
\begin{axis}[page,xmin=0,xmax=2127,ymin=-2430,ymax=582]
\tx[anchor=west]{190}{226}{\fs{6.5}response}
\rc{205}{225}{244}{264}{rN}\rc{205}{225}{269}{289}{rR}
\tx[anchor=west]{233}{253}{\fs{5.5}NonRes}\tx[anchor=west]{233}{278}{\fs{5.5}Resp}
\tx[anchor=west]{347}{223}{\fs{5.5}ICB}
\rc{347}{368}{239}{259}{tA}\rc{347}{368}{263}{283}{tC}\rc{347}{368}{288}{308}{tN}\rc{347}{368}{313}{333}{tP}\rc{347}{368}{337}{357}{tI}
\tx[anchor=west]{375}{248}{\fs{5.5}anti-PDL1}\tx[anchor=west]{375}{272}{\fs{5.5}Nivo}\tx[anchor=west]{375}{297}{\fs{5.5}Nivo+Ipi}\tx[anchor=west]{375}{322}{\fs{5.5}Pembro}\tx[anchor=west]{375}{346}{\fs{5.5}Pembro+Axitinib}
\tx[anchor=west]{545}{223}{\fs{5.5}Primary Cancer}
\rc{545}{566}{239}{259}{pK}\rc{545}{566}{263}{283}{pL}\rc{545}{566}{288}{308}{pO}\rc{545}{566}{313}{333}{pS}\rc{545}{566}{337}{357}{pU}
\tx[anchor=west]{573}{248}{\fs{5.5}Kidney}\tx[anchor=west]{573}{272}{\fs{5.5}Lung}\tx[anchor=west]{573}{297}{\fs{5.5}Ovary}\tx[anchor=west]{573}{322}{\fs{5.5}Stomach}\tx[anchor=west]{573}{346}{\fs{5.5}Unk}
\tx[anchor=west]{735}{223}{\fs{5.5}BestResponse to ICI}
\rc{735}{755}{239}{259}{bD}\rc{735}{755}{263}{283}{bR}\rc{735}{755}{288}{308}{bS}
\tx[anchor=west]{762}{248}{\fs{5.5}PD}\tx[anchor=west]{762}{272}{\fs{5.5}PR}\tx[anchor=west]{762}{297}{\fs{5.5}SD}
\tx[anchor=west]{227}{421}{\fs{5.5}Colitis activity}
\rc{227}{247}{436}{456}{aM}\rc{227}{247}{460}{480}{aO}\rc{227}{247}{485}{505}{aS}
\tx[anchor=west]{255}{445}{\fs{5.5}1 Mild}\tx[anchor=west]{255}{469}{\fs{5.5}2 Moderate}\tx[anchor=west]{255}{494}{\fs{5.5}3 Severe}
\tx[anchor=west]{396}{421}{\fs{5.5}Colitis Outcome}
\rc{396}{416}{436}{456}{oR}\rc{396}{416}{460}{480}{oL}
\tx[anchor=west]{423}{445}{\fs{5.5}In remission}\tx[anchor=west]{423}{469}{\fs{5.5}Long lasting colitis}
\tx[anchor=west]{630}{415}{\fs{5.5}Colitis Treatment}
\rc{630}{650}{431}{451}{tA}\rc{630}{650}{456}{476}{tC}\rc{630}{650}{480}{500}{tN}\rc{630}{650}{505}{525}{tP}\rc{630}{650}{529}{549}{tI}\rc{630}{650}{554}{574}{tY}
\tx[anchor=west]{658}{440}{\fs{5.5}5-ASA}\tx[anchor=west]{658}{465}{\fs{5.5}Conservative}\tx[anchor=west]{658}{489}{\fs{5.5}no drug}\tx[anchor=west]{658}{514}{\fs{5.5}PSL}\tx[anchor=west]{658}{538}{\fs{5.5}PSL, IFX}\tx[anchor=west]{658}{563}{\fs{5.5}PSL, IFX, CyA}
\tx[anchor=west]{842}{413}{\fs{5.5}Gender}
\rc{842}{862}{428}{448}{gF}\rc{842}{862}{452}{472}{gM}
\tx[anchor=west]{870}{437}{\fs{5.5}F}\tx[anchor=west]{870}{461}{\fs{5.5}M}
\end{axis}

%% ---- bar chart, lower right
\begin{axis}[
  at={(299.8pt,-702.75pt)},anchor=south west,scale only axis,width=199.2pt,height=118.5pt,
  xmin=0,xmax=5,ymin=-0.436,ymax=8.51,clip=false,
  axis x line=bottom,axis y line=left,axis line style={-,draw=txt,line width=.6pt},
  xbar,bar width=4.5pt,
  xtick={0,1,2,3,4,5},minor xtick={.5,1.5,2.5,3.5,4.5},
  ytick={-.436,.5,1.5,2.5,3.5,4.5,5.5,6.5,7.5,8.5},yticklabels={},
  extra y ticks={0,1,2,3,4,5,6,7,8},
  extra y tick labels={C1,C3,C2,C4,C5,C6,C7,MCA,MCB},
  extra y tick style={major tick length=0pt,tick style={draw=none}},
  tick align=outside,tick pos=left,major tick length=2.5pt,minor tick length=1.5pt,
  tick style={draw=txt,line width=.5pt},
  tick label style={font=\fs{8},text=txt},
  /pgf/number format/assume math mode=true,
  xlabel={Fold change Resp vs NonResp},ylabel={Cluster},
  label style={font=\fs{8.5},text=txt},
  xlabel style={at={(axis description cs:.527,-.185)},anchor=center},
  ylabel style={at={(axis description cs:-.142,.5)},anchor=center},
  legend style={at={(.46,-.323)},anchor=west,draw=none,fill=none,font=\fs{8.2},text=txt,inner sep=0pt},
  legend image code/.code={\fill[#1] (0pt,-3pt) rectangle (10.5pt,3pt);},
]
\addplot[draw=none,fill=pval,bar shift=-2.25pt] coordinates {(2.33,0)(1.2,1)(4.32,2)(1.58,3)(1.32,4)(1.3,5)(1.27,6)(3.1,7)(5.02,8)};
\addlegendentry{–Log\textsubscript{10} \textit{P} value}
\addplot[draw=none,fill=cA,bar shift=2.25pt,forget plot] coordinates {(2.44,0)};
\addplot[draw=none,fill=cC!85!white,bar shift=2.25pt,forget plot] coordinates {(1.68,1)};
\addplot[draw=none,fill=cB,bar shift=2.25pt,forget plot] coordinates {(.45,2)};
\addplot[draw=none,fill=cD,bar shift=2.25pt,forget plot] coordinates {(.62,3)};
\addplot[draw=none,fill=cE!90!yellow,bar shift=2.25pt,forget plot] coordinates {(.66,4)};
\addplot[draw=none,fill=cF,bar shift=2.25pt,forget plot] coordinates {(.67,5)};
\addplot[draw=none,fill=cG,bar shift=2.25pt,forget plot] coordinates {(.67,6)};
\addplot[draw=none,fill=cG!80!cyan,bar shift=2.25pt,forget plot] coordinates {(2,7)};
\addplot[draw=none,fill=aO!85!white,bar shift=2.25pt,forget plot] coordinates {(.6,8)};
\addplot[sharp plot,dashed,draw=blue!60!cyan,line width=.6pt,forget plot] coordinates {(1,-.436)(1,8.92)};
\addplot[sharp plot,dashed,draw=red!60!white,line width=.6pt,forget plot] coordinates {(1.27,-.436)(1.27,8.92)};
\end{axis}

\pgfresetboundingbox
\path (0,0) rectangle (531.75pt,-753pt);
\end{tikzpicture}
\end{document}
